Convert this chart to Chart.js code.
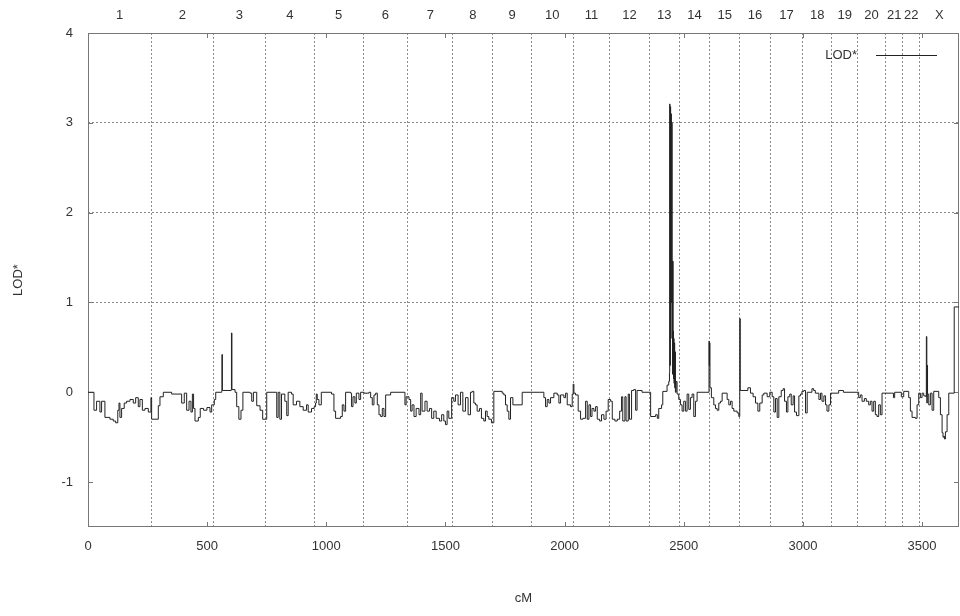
<!DOCTYPE html>
<html>
<head>
<meta charset="utf-8">
<script src="https://cdn.jsdelivr.net/npm/chart.js@4.4.1/dist/chart.umd.min.js"></script>
<style>
  html, body { margin: 0; padding: 0; background: #fff; }
  #wrap { width: 960px; height: 616px; }
</style>
</head>
<body>
<div id="wrap"><canvas id="lodChart"></canvas></div>
<script>
// genome position (cM) and LOD* value
const cM = [
  0, 25, 36, 50, 57, 71, 92, 106, 116, 125, 130, 134, 141, 152, 162, 176, 190, 200, 211, 218, 228, 239, 253, 264,
  267, 295, 302, 316, 351, 393, 404, 414, 424, 432, 438, 443, 449, 463, 471, 485, 499, 512, 519,
  530, 536, 561, 562, 564, 601, 602, 604, 617, 624, 633, 642, 650, 680, 687, 694, 708, 722, 733,
  750, 792, 798, 805, 812, 826, 834, 840, 854, 861, 875, 889, 903, 917, 924, 938, 949,
  955, 958, 962, 969, 979, 1022, 1032, 1039, 1060, 1067, 1074, 1081, 1102, 1106, 1112, 1120, 1126, 1137, 1144,
  1158, 1179, 1186, 1193, 1200, 1207, 1214, 1221, 1228, 1235, 1242, 1249, 1270, 1330, 1335,
  1342, 1347, 1354, 1360, 1368, 1377, 1389, 1396, 1402, 1414, 1423, 1433, 1442, 1451, 1461, 1475, 1484, 1493, 1500, 1507, 1514, 1526,
  1535, 1542, 1553, 1563, 1573, 1584, 1595, 1605, 1612, 1619, 1626, 1633, 1643, 1651, 1661, 1668, 1675, 1682, 1693,
  1703, 1738, 1745, 1752, 1759, 1766, 1773, 1783, 1822,
  1913, 1920, 1927, 1934, 1941, 1955, 1969, 1976, 1983, 1997, 2004, 2011, 2025, 2032,
  2036, 2039, 2046, 2057, 2067, 2077, 2088, 2095, 2102, 2109, 2115, 2123, 2130, 2137, 2147, 2155, 2165, 2174, 2183,
  2193, 2200, 2211, 2221, 2231, 2239, 2244, 2253, 2258, 2267, 2272, 2281, 2290, 2298, 2304, 2325,
  2361, 2382, 2389, 2395, 2407, 2412, 2430, 2437, 2440, 2441, 2442, 2444, 2445, 2447, 2448, 2450, 2451, 2453, 2454,
  2455, 2456, 2457, 2458, 2459, 2461, 2462, 2464, 2465, 2468, 2472, 2479,
  2486, 2493, 2500, 2507, 2514, 2521, 2528, 2535, 2542, 2549, 2556, 2606, 2607, 2608, 2610,
  2616, 2626, 2633, 2640, 2647, 2654, 2661, 2682, 2689, 2696, 2703, 2710, 2724, 2731,
  2735, 2737, 2769, 2780, 2791, 2801, 2811, 2819, 2829, 2836, 2850, 2861,
  2871, 2878, 2885, 2892, 2899, 2909, 2917, 2923, 2931, 2937, 2945, 2951, 2959, 2965, 2973, 2983, 2990, 2996,
  3004, 3011, 3018, 3038, 3045, 3052, 3067, 3074, 3080, 3088, 3095, 3101, 3109, 3116,
  3150, 3170,
  3234, 3241, 3248, 3258, 3266, 3276, 3283, 3290, 3297, 3304, 3311, 3318, 3325, 3332,
  3373, 3380, 3385, 3413,
  3423, 3444, 3451, 3458, 3472, 3479, 3486,
  3493, 3500, 3507, 3516, 3518, 3520, 3522, 3523, 3528, 3535, 3542, 3549, 3570, 3577, 3584, 3588, 3591, 3594, 3598,
  3605, 3612, 3635, 3655
];
const lod = [
  0, -0.2, -0.1, -0.22, -0.1, -0.28, -0.3, -0.32, -0.34, -0.2, -0.12, -0.28, -0.18, -0.12, -0.1, -0.08, -0.12, -0.06, -0.16, -0.08, -0.2, -0.18, -0.22, -0.06,
  -0.3, -0.15, -0.05, 0, -0.02, -0.12, -0.01, -0.2, -0.1, -0.22, -0.02, -0.18, -0.32, -0.28, -0.18, -0.2, -0.17, -0.22, -0.14,
  -0.08, 0, 0.01, 0.42, 0.02, 0.03, 0.66, 0.03, 0, -0.16, -0.3, -0.2, 0, -0.01, -0.1, 0, -0.15, -0.2, -0.3,
  0, -0.28, 0, -0.3, -0.02, -0.1, -0.26, 0, -0.02, -0.14, -0.1, -0.16, -0.2, -0.14, -0.22, -0.18, -0.16,
  -0.12, -0.02, -0.08, -0.14, 0, -0.02, -0.21, -0.29, -0.27, -0.14, -0.21, 0, -0.01, -0.16, -0.05, -0.12, -0.01, -0.08, 0,
  -0.01, 0, -0.06, -0.14, -0.03, -0.01, -0.14, -0.25, -0.27, -0.18, -0.27, -0.03, 0, -0.14, -0.05,
  -0.05, -0.08, -0.21, -0.14, -0.27, -0.18, -0.25, -0.01, -0.21, -0.1, -0.21, -0.18, -0.29, -0.21, -0.29, -0.32, -0.25, -0.32, -0.36, -0.21, -0.29, -0.06,
  -0.1, -0.03, -0.14, 0, -0.21, -0.06, -0.25, 0, 0.01, -0.12, -0.14, -0.21, -0.18, -0.29, -0.32, -0.21, -0.27, -0.3, -0.34,
  0.01, -0.01, -0.03, -0.14, -0.21, -0.3, -0.06, -0.14, 0,
  -0.06, -0.16, -0.08, -0.12, -0.06, -0.01, -0.03, -0.12, -0.03, -0.06, -0.01, -0.14, -0.16, -0.02,
  0.09, -0.01, -0.03, -0.21, -0.3, -0.29, -0.1, -0.3, -0.14, -0.27, -0.18, -0.21, -0.16, -0.3, -0.32, -0.25, -0.3, -0.21, -0.08,
  -0.1, -0.3, -0.32, -0.3, -0.21, -0.05, -0.32, -0.05, -0.32, -0.02, -0.3, 0.02, 0.03, -0.2, 0.02, 0,
  -0.27, -0.25, -0.29, -0.18, -0.14, 0.01, 0.08, 0.12, 0.22, 3.21, 0.3, 3.18, 0.6, 3.1, 1.0, 3.0, 1.46, 0.2, 1.46,
  0.3, 0.68, 0.15, 0.6, 0.1, 0.55, 0.05, 0.45, 0, 0.12, -0.02, -0.08,
  -0.14, -0.21, -0.1, -0.21, -0.02, -0.19, -0.06, -0.02, -0.27, -0.1, 0, 0.57, 0.3, 0.55, 0.05,
  -0.06, -0.14, -0.18, -0.2, -0.12, -0.1, -0.01, -0.08, -0.14, -0.1, -0.18, -0.21, -0.23, -0.27,
  0.82, 0.02, 0.05, -0.01, -0.05, -0.12, -0.21, -0.12, -0.03, -0.01, -0.05, 0,
  -0.05, -0.22, -0.07, -0.28, -0.05, 0.02, 0.04, -0.1, -0.22, -0.05, -0.02, -0.14, -0.04, -0.22, -0.26, -0.04, -0.02, 0.01,
  0.02, -0.23, 0, 0.04, 0.02, -0.01, -0.08, -0.01, -0.1, -0.04, -0.14, -0.21, -0.14, -0.01,
  0.02, 0,
  -0.06, -0.03, -0.1, -0.07, -0.1, -0.14, -0.1, -0.21, -0.1, -0.25, -0.27, -0.14, -0.25, -0.01,
  -0.01, -0.06, 0, -0.05,
  0.01, -0.06, -0.21, -0.28, -0.29, -0.14, -0.01,
  -0.06, -0.01, -0.04, -0.05, 0.62, -0.12, 0.3, -0.02, -0.14, -0.01, -0.2, 0.01, -0.06, -0.25, -0.45, -0.5, -0.49, -0.52, -0.44,
  -0.25, -0.01, 0.95, 0.95
];

// chromosomes along the top axis
const chromNames = ['1', '2', '3', '4', '5', '6', '7', '8', '9', '10', '11', '12',
  '13', '14', '15', '16', '17', '18', '19', '20', '21', '22', 'X'];
const chromStarts = [0, 266, 526, 745, 950, 1154, 1342, 1531, 1699, 1860, 2036, 2189,
  2356, 2481, 2609, 2734, 2864, 2999, 3122, 3230, 3346, 3420, 3490];
const genomeEnd = 3655;

const xTicks = [0, 500, 1000, 1500, 2000, 2500, 3000, 3500];
const yTicks = [-1, 0, 1, 2, 3, 4];
const yGridLines = [1, 2, 3];

const textColor = '#333';
const gridColor = '#8a8a8a';
const font = { family: "'Liberation Sans', Arial, sans-serif", size: 13 };

// top axis: boundaries get a dotted line, midpoints get the chromosome name
function chromTicks() {
  const out = [];
  chromNames.forEach((name, i) => {
    const start = chromStarts[i];
    const end = i + 1 < chromStarts.length ? chromStarts[i + 1] : genomeEnd;
    if (i > 0) out.push({ value: start });
    out.push({ value: (start + end) / 2, name: name });
  });
  return out;
}

const framePlugin = {
  id: 'frame',
  beforeDatasetsDraw(chart) {
    const { ctx, chartArea: a, scales } = chart;
    ctx.save();
    ctx.strokeStyle = '#777';
    ctx.lineWidth = 1;
    ctx.strokeRect(a.left + 0.5, a.top + 0.5, a.right - a.left - 1, a.bottom - a.top - 1);
    ctx.beginPath();
    yTicks.forEach(v => {
      const y = Math.round(scales.y.getPixelForValue(v)) + 0.5;
      ctx.moveTo(a.left, y); ctx.lineTo(a.left + 5, y);
      ctx.moveTo(a.right, y); ctx.lineTo(a.right - 5, y);
    });
    xTicks.forEach(v => {
      const x = Math.round(scales.x.getPixelForValue(v)) + 0.5;
      ctx.moveTo(x, a.bottom); ctx.lineTo(x, a.bottom - 5);
      ctx.moveTo(x, a.top); ctx.lineTo(x, a.top + 5);
    });
    ctx.stroke();
    ctx.restore();
  },
  afterDraw(chart) {
    const { ctx, chartArea: a } = chart;
    ctx.save();
    // legend, inside top right
    const ly = a.top + 22.5;
    ctx.font = "13px 'Liberation Sans', Arial, sans-serif";
    ctx.fillStyle = textColor;
    ctx.textAlign = 'right';
    ctx.textBaseline = 'middle';
    ctx.fillText('LOD*', a.right - 102, ly);
    ctx.strokeStyle = '#222';
    ctx.lineWidth = 1;
    ctx.beginPath();
    ctx.moveTo(a.right - 83, ly); ctx.lineTo(a.right - 22, ly);
    ctx.stroke();
    // y axis title
    ctx.translate(18, a.top + (a.bottom - a.top) * 0.5);
    ctx.rotate(-Math.PI / 2);
    ctx.textAlign = 'center';
    ctx.fillText('LOD*', 0, 0);
    ctx.restore();
  }
};

new Chart('lodChart', {
  type: 'line',
  data: {
    datasets: [{
      label: 'LOD*',
      data: cM.map((x, i) => ({ x: x, y: lod[i] })),
      stepped: 'before',
      borderColor: '#222',
      borderWidth: 1,
      pointRadius: 0,
      fill: false
    }]
  },
  options: {
    responsive: true,
    maintainAspectRatio: false,
    animation: false,
    layout: { padding: { right: 1 } },
    plugins: {
      legend: { display: false },
      tooltip: { enabled: false }
    },
    scales: {
      x: {
        type: 'linear',
        position: 'bottom',
        min: 0,
        max: genomeEnd,
        afterBuildTicks: s => { s.ticks = xTicks.map(v => ({ value: v })); },
        afterFit: s => { s.height = 89; },
        grid: { display: false },
        border: { display: false },
        ticks: {
          padding: 4, color: textColor, font: font, maxRotation: 0, autoSkip: false,
          callback: v => String(v)
        },
        title: { display: true, text: 'cM', color: textColor, font: font, padding: { top: 0, bottom: 10 } }
      },
      chrom: {
        type: 'linear',
        position: 'top',
        min: 0,
        max: genomeEnd,
        afterBuildTicks: s => { s.ticks = chromTicks(); },
        afterFit: s => { s.height = 33; },
        grid: {
          drawTicks: false,
          lineWidth: 1,
          color: c => (c.tick && c.tick.name) ? 'rgba(0,0,0,0)' : gridColor
        },
        border: { display: false, dash: [2, 2] },
        ticks: {
          padding: 10, color: textColor, font: font, maxRotation: 0, autoSkip: false,
          callback: (v, i, t) => t[i].name || ''
        }
      },
      y: {
        type: 'linear',
        min: -1.5,
        max: 4,
        afterBuildTicks: s => { s.ticks = yTicks.map(v => ({ value: v })); },
        afterFit: s => { s.width = 88; },
        grid: {
          drawTicks: false,
          lineWidth: 1,
          color: c => (c.tick && yGridLines.includes(c.tick.value)) ? gridColor : 'rgba(0,0,0,0)'
        },
        border: { display: false, dash: [2, 2] },
        ticks: { padding: 15, color: textColor, font: font }
      }
    }
  },
  plugins: [framePlugin]
});
</script>
</body>
</html>
